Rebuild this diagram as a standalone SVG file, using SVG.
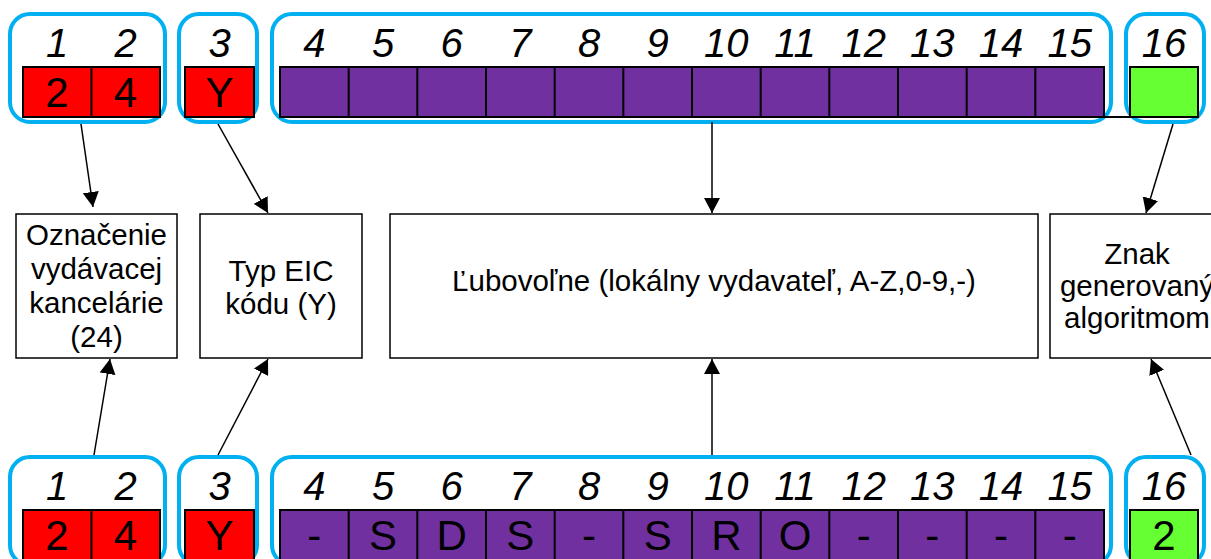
<svg xmlns="http://www.w3.org/2000/svg" width="1211" height="559" viewBox="0 0 1211 559">
<style>
.grp{fill:none;stroke:#00B0F0;stroke-width:4}
.cell{stroke:#000;stroke-width:2}
.red{fill:#FF0000}
.pur{fill:#7030A0}
.grn{fill:#66FF33}
.num{font-family:"Liberation Sans",Arial,sans-serif;font-style:italic;font-size:40px;text-anchor:middle;fill:#000}
.ch{font-family:"Liberation Sans",Arial,sans-serif;font-size:42px;text-anchor:middle;fill:#000}
.box{fill:#fff;stroke:#000;stroke-width:1.5}
.lbl{font-family:"Liberation Sans",Arial,sans-serif;font-size:29.5px;text-anchor:middle;fill:#000}
.con{stroke:#000;stroke-width:1.5;fill:none;marker-end:url(#ah)}
.div{stroke:#000;stroke-width:2}
</style>
<defs>
<marker id="ah" viewBox="0 0 15 16" refX="15" refY="8" markerWidth="15" markerHeight="16" orient="auto" markerUnits="userSpaceOnUse">
<path d="M0,0 L15,8 L0,16 z" fill="#000"/>
</marker>
</defs>
<rect width="1211" height="559" fill="#fff"/>

<!-- Top row -->
<g id="top-12">
<rect class="grp" x="10" y="14" width="155" height="108" rx="20"/>
<text class="num" x="57" y="57">1</text>
<text class="num" x="125.5" y="57">2</text>
<rect class="cell red" x="23" y="67" width="137" height="50"/>
<line class="div" x1="91.5" y1="67" x2="91.5" y2="117"/>
<text class="ch" x="57" y="107">2</text>
<text class="ch" x="125.5" y="107">4</text>
</g>
<g id="top-3">
<rect class="grp" x="179" y="14" width="78" height="108" rx="20"/>
<text class="num" x="219.5" y="57">3</text>
<rect class="cell red" x="185" y="67" width="69" height="50"/>
<text class="ch" x="219.5" y="107">Y</text>
</g>
<g id="top-4-15">
<rect class="grp" x="272" y="14" width="839" height="108" rx="20"/>
<text class="num" x="314.3" y="57">4</text>
<text class="num" x="383" y="57">5</text>
<text class="num" x="451.7" y="57">6</text>
<text class="num" x="520.3" y="57">7</text>
<text class="num" x="589" y="57">8</text>
<text class="num" x="657.7" y="57">9</text>
<text class="num" x="726.3" y="57">10</text>
<text class="num" x="795" y="57">11</text>
<text class="num" x="863.7" y="57">12</text>
<text class="num" x="932.3" y="57">13</text>
<text class="num" x="1001" y="57">14</text>
<text class="num" x="1069.7" y="57">15</text>
<rect class="cell pur" x="280" y="67" width="824" height="50"/>
<path class="div" d="M348.67,67V117M417.33,67V117M486,67V117M554.67,67V117M623.33,67V117M692,67V117M760.67,67V117M829.33,67V117M898,67V117M966.67,67V117M1035.33,67V117"/>
<line class="div" x1="1104" y1="117" x2="1130" y2="117"/>
</g>
<g id="top-16">
<rect class="grp" x="1126" y="14" width="78" height="108" rx="20"/>
<text class="num" x="1164" y="57">16</text>
<rect class="cell grn" x="1130" y="67" width="68" height="50"/>
</g>

<!-- Middle boxes -->
<g id="box-office">
<rect class="box" x="16" y="214" width="161" height="144"/>
<text class="lbl" x="96.5" y="245">Označenie</text>
<text class="lbl" x="96.5" y="279">vydávacej</text>
<text class="lbl" x="96.5" y="313">kancelárie</text>
<text class="lbl" x="96.5" y="347">(24)</text>
</g>
<g id="box-type">
<rect class="box" x="200" y="214" width="162" height="144"/>
<text class="lbl" x="281" y="281">Typ EIC</text>
<text class="lbl" x="281" y="314">kódu (Y)</text>
</g>
<g id="box-any">
<rect class="box" x="390" y="214" width="648" height="144"/>
<text class="lbl" x="714" y="291">Ľubovoľne (lokálny vydavateľ, A-Z,0-9,-)</text>
</g>
<g id="box-check">
<rect class="box" x="1050" y="214" width="174" height="144"/>
<text class="lbl" x="1137" y="264">Znak</text>
<text class="lbl" x="1137" y="296">generovaný</text>
<text class="lbl" x="1137" y="328">algoritmom</text>
</g>

<!-- Bottom row -->
<g id="bot-12">
<rect class="grp" x="10" y="457" width="155" height="108" rx="20"/>
<text class="num" x="57" y="500">1</text>
<text class="num" x="125.5" y="500">2</text>
<rect class="cell red" x="23" y="510" width="137" height="50"/>
<line class="div" x1="91.5" y1="510" x2="91.5" y2="560"/>
<text class="ch" x="57" y="550">2</text>
<text class="ch" x="125.5" y="550">4</text>
</g>
<g id="bot-3">
<rect class="grp" x="179" y="457" width="78" height="108" rx="20"/>
<text class="num" x="219.5" y="500">3</text>
<rect class="cell red" x="185" y="510" width="69" height="50"/>
<text class="ch" x="219.5" y="550">Y</text>
</g>
<g id="bot-4-15">
<rect class="grp" x="272" y="457" width="839" height="108" rx="20"/>
<text class="num" x="314.3" y="500">4</text>
<text class="num" x="383" y="500">5</text>
<text class="num" x="451.7" y="500">6</text>
<text class="num" x="520.3" y="500">7</text>
<text class="num" x="589" y="500">8</text>
<text class="num" x="657.7" y="500">9</text>
<text class="num" x="726.3" y="500">10</text>
<text class="num" x="795" y="500">11</text>
<text class="num" x="863.7" y="500">12</text>
<text class="num" x="932.3" y="500">13</text>
<text class="num" x="1001" y="500">14</text>
<text class="num" x="1069.7" y="500">15</text>
<rect class="cell pur" x="280" y="510" width="824" height="50"/>
<path class="div" d="M348.67,510V560M417.33,510V560M486,510V560M554.67,510V560M623.33,510V560M692,510V560M760.67,510V560M829.33,510V560M898,510V560M966.67,510V560M1035.33,510V560"/>
<text class="ch" x="314.3" y="550">-</text>
<text class="ch" x="383" y="550">S</text>
<text class="ch" x="451.7" y="550">D</text>
<text class="ch" x="520.3" y="550">S</text>
<text class="ch" x="589" y="550">-</text>
<text class="ch" x="657.7" y="550">S</text>
<text class="ch" x="726.3" y="550">R</text>
<text class="ch" x="795" y="550">O</text>
<text class="ch" x="863.7" y="550">-</text>
<text class="ch" x="932.3" y="550">-</text>
<text class="ch" x="1001" y="550">-</text>
<text class="ch" x="1069.7" y="550">-</text>
</g>
<g id="bot-16">
<rect class="grp" x="1126" y="457" width="78" height="108" rx="20"/>
<text class="num" x="1164" y="500">16</text>
<rect class="cell grn" x="1130" y="510" width="68" height="50"/>
<text class="ch" x="1164" y="550">2</text>
</g>

<!-- Connectors -->
<g id="connectors">
<line class="con" x1="81" y1="124" x2="93" y2="207"/>
<line class="con" x1="218" y1="124" x2="268" y2="213"/>
<line class="con" x1="712" y1="122" x2="712" y2="213"/>
<line class="con" x1="1173" y1="124" x2="1146" y2="213"/>
<line class="con" x1="94" y1="455" x2="110" y2="359"/>
<line class="con" x1="218" y1="455" x2="268" y2="359"/>
<line class="con" x1="712" y1="455" x2="712" y2="359"/>
<line class="con" x1="1191" y1="455" x2="1151" y2="359"/>
</g>
</svg>
